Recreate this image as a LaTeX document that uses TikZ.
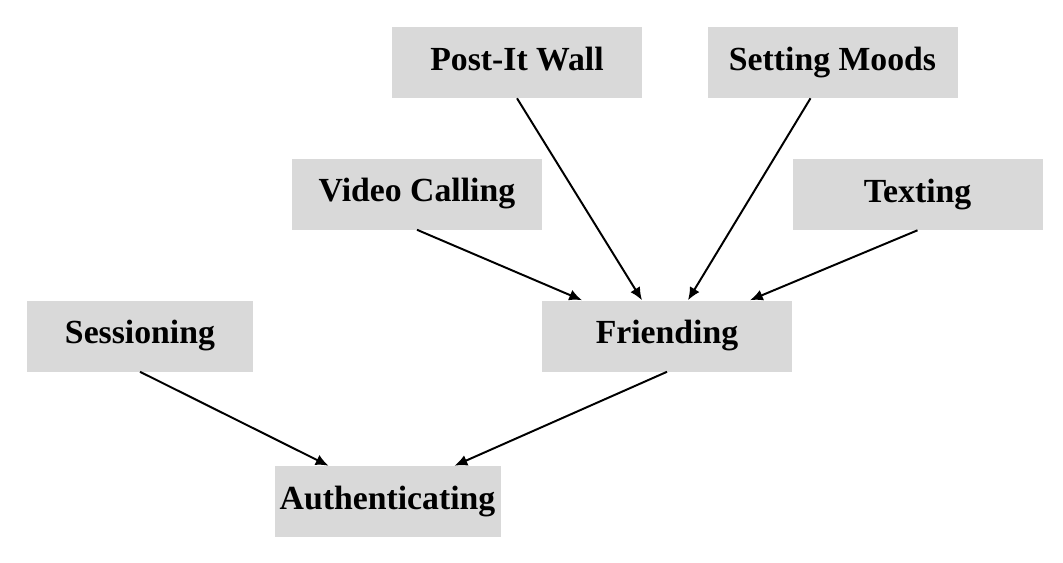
\documentclass[tikz,border=0pt]{standalone}
\usepackage{fontspec}
\setmainfont{Liberation Serif}
\usetikzlibrary{arrows.meta}
\definecolor{boxgray}{HTML}{D9D9D9}
\begin{document}
\begin{tikzpicture}[x=0.25mm, y=0.25mm,
  box/.style={fill=boxgray, minimum width=6.25cm, minimum height=1.775cm, inner sep=0pt, text height=0.56cm, text depth=0.18cm, font=\fontsize{24}{28}\selectfont\bfseries},
  smallbox/.style={box, minimum width=5.65cm},
  arr/.style={-{Latex[length=3.2mm,width=2.8mm]}, line width=1.4pt}]
\useasboundingbox (0,0) rectangle (1063,-562);
\node [box] (post) at (517,-62.5) {Post-It Wall};
\node [box] (moods) at (832.5,-62.5) {Setting Moods};
\node [box] (video) at (417,-194) {Video Calling};
\node [box] (texting) at (917.5,-194.5) {Texting};
\node [smallbox] (session) at (140,-336) {Sessioning};
\node [box] (friend) at (667,-336) {Friending};
\node [smallbox] (auth) at (387.5,-501.5) {Authenticating};
\draw [arr] (video.south) -- ([xshift=-2.125cm]friend.north);
\draw [arr] (post.south) -- ([xshift=-0.625cm]friend.north);
\draw [arr] ([xshift=-0.55cm]moods.south) -- ([xshift=0.525cm]friend.north);
\draw [arr] (texting.south) -- ([xshift=2.075cm]friend.north);
\draw [arr] (session.south) -- ([xshift=-1.475cm]auth.north);
\draw [arr] (friend.south) -- ([xshift=1.675cm]auth.north);
\end{tikzpicture}
\end{document}
